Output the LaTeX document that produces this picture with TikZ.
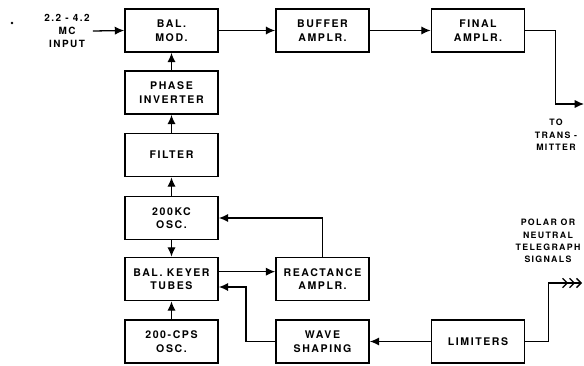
\documentclass[tikz,border=0pt]{standalone}
\usepackage{fontspec}
\setmainfont{TeX Gyre Heros}[LetterSpace=15, BoldFeatures={LetterSpace=15}]
\usetikzlibrary{arrows.meta}

\begin{document}
\begin{tikzpicture}[x=0.03cm, y=-0.03cm,
  font=\fontsize{9}{11.5}\selectfont\bfseries,
  blk/.style={draw, line width=1.2pt, minimum width=2.8cm, minimum height=1.3cm, align=center, inner sep=1pt},
  lbl/.style={align=center, inner sep=0pt, font=\fontsize{7.5}{10.5}\selectfont\bfseries\addfontfeatures{LetterSpace=10}},
  arr/.style={line width=1.1pt, -{Latex[length=2.8mm,width=2.5mm]}},
  wire/.style={line width=1.1pt}]

\useasboundingbox (0,0) rectangle (584,366);

% ---------- top row ----------
\node[blk] (balmod) at (171.5,30.5) {BAL.\\MOD.};
\node[blk] (buffer) at (322.5,30.5) {BUFFER\\AMPLR.};
\node[blk] (final)  at (478,30.5)   {FINAL\\AMPLR.};
\node[lbl, font=\fontsize{8.5}{11}\selectfont\bfseries\addfontfeatures{LetterSpace=20}] (input) at (67,31) {2.2 - 4.2\\MC\\INPUT};
\fill (12,23) circle (1.3);
\draw[arr] (input.east) ++(3,0) coordinate (in) -- (balmod.west);
\draw[arr] (balmod) -- (buffer);
\draw[arr] (buffer) -- (final);

% ---------- output to transmitter ----------
\coordinate (tx) at (584,104);
\draw[arr] (final.east) -- ++(30,0) |- (tx);
\node[lbl] (totx) at (556,135) {TO\\TRANS -\\MITTER};

% ---------- carrier chain ----------
\node[blk] (phase)  at (171.5,92.5) {PHASE\\INVERTER};
\node[blk] (filter) at (171.5,155)  {FILTER};
\node[blk] (osc)    at (171.5,218)  {200KC\\OSC.};
\node[blk] (keyer)  at (171.5,279)  {BAL. KEYER\\TUBES};
\node[blk] (cps)    at (171.5,341.5) {200-CPS\\OSC.};
\draw[arr] (phase) -- (balmod);
\draw[arr] (filter) -- (phase);
\draw[arr] (osc) -- (filter);
\draw[arr] (osc) -- (keyer);
\draw[arr] (cps) -- (keyer);

% ---------- keying loop ----------
\node[blk] (react)    at (322.5,279)   {REACTANCE\\AMPLR.};
\node[blk] (wave)     at (322.5,341.5) {WAVE\\SHAPING};
\node[blk] (limiters) at (478,341.5)   {LIMITERS};
\draw[arr] ([yshift=0.22cm]keyer.east) -- ([yshift=0.22cm]react.west);
\draw[arr] (react.north) |- (osc.east);
\draw[arr] (limiters) -- (wave);
\draw[arr] (wave.west) -- ++(-29,0) |- ([yshift=-0.24cm]keyer.east);

% ---------- telegraph input ----------
\coordinate (sig) at (582,283);
\draw[wire, -{Straight Barb[length=1.4mm,width=2.8mm,sep=0.2mm]Straight Barb[length=1.4mm,width=2.8mm,sep=0.2mm]Straight Barb[length=1.4mm,width=2.8mm]}]
  (limiters.east) -- ++(23,0) |- (sig);
\node[lbl] (polar) at (548,241) {POLAR OR\\NEUTRAL\\TELEGRAPH\\SIGNALS};
\end{tikzpicture}
\end{document}
